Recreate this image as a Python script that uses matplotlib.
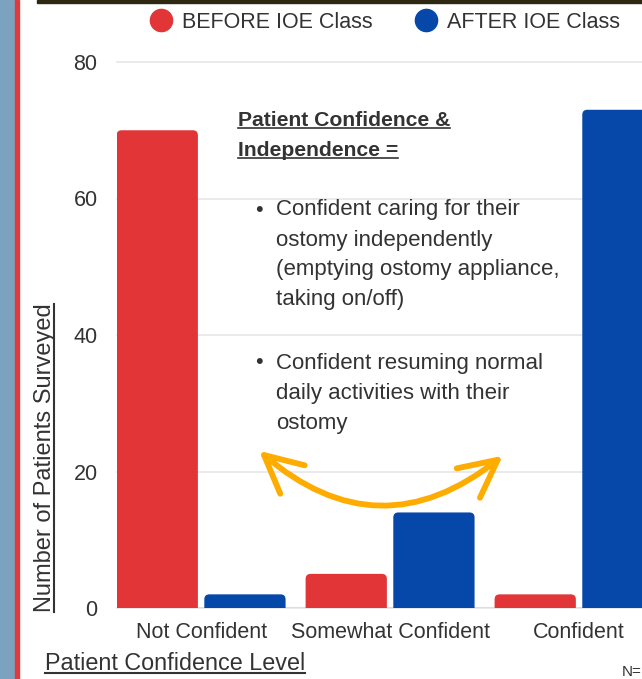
import matplotlib.pyplot as plt
from matplotlib.patches import Rectangle, FancyArrowPatch, FancyBboxPatch
from matplotlib.lines import Line2D
import numpy as np

plt.rcParams['font.family'] = ['Liberation Sans', 'DejaVu Sans']

# data
categories = ["Not Confident", "Somewhat Confident", "Confident"]
before = [70, 5, 2]
after = [2, 14, 73]
yticks = [0, 20, 40, 60, 80]

RED = "#E23537"
BLUE = "#0548AA"
TXT = "#333333"
W, H = 642, 679

fig = plt.figure(figsize=(W / 100, H / 100), dpi=100)


def fx(px):
    return px / W


def fy(py):
    return 1 - py / H


# poster frame bits (left strip, top rule)
fig.patches.append(Rectangle((0, 0), fx(15), 1, transform=fig.transFigure,
                             color="#7BA2BF", zorder=0))
fig.patches.append(Rectangle((fx(15), 0), fx(4), 1, transform=fig.transFigure,
                             color="#E23A3C", zorder=0))
fig.patches.append(Rectangle((fx(37), fy(3)), 1, 3 / H, transform=fig.transFigure,
                             color="#2E2712", zorder=0))

ax = fig.add_axes([fx(117), fy(608), 1 - fx(117), fy(62) - fy(608)])

x = np.arange(len(categories))
bw = 0.43
off = 0.232
b1 = ax.bar(x - off, before, bw, color=RED, zorder=3)
b2 = ax.bar(x + off, after, bw, color=BLUE, zorder=3)

ax.set_xlim(-0.445, 2.333)
ax.set_ylim(0, 80)

# round the top corners of the bars (bottoms hidden below the axis)
rx = 5 / 189.0
asp = (5 / 6.825) / rx
for cont in (b1, b2):
    for p in cont.patches:
        fb = FancyBboxPatch((p.get_x(), -2), p.get_width(), p.get_height() + 2,
                            boxstyle=f"round,pad=0,rounding_size={rx}",
                            mutation_aspect=asp, fc=p.get_facecolor(),
                            ec="none", zorder=3)
        ax.add_patch(fb)
        p.set_visible(False)

ax.set_yticks(yticks)
ax.set_xticks(x)
ax.set_xticklabels(categories)
ax.tick_params(length=0, labelsize=15.5, labelcolor=TXT)
ax.tick_params(axis="y", pad=14)
ax.tick_params(axis="x", pad=10)
for s in ax.spines.values():
    s.set_visible(False)
ax.grid(axis="y", color="#E6E6E6", lw=1.2, zorder=0)
ax.axhline(0, color="#DDDDDD", lw=1.5, zorder=2)
for gl in ax.get_ygridlines():
    gl.set_clip_on(False)

# legend
hs = [Line2D([], [], ls="", marker="o", ms=16, color=RED),
      Line2D([], [], ls="", marker="o", ms=16, color=BLUE)]
fig.legend(hs, ["BEFORE IOE Class", "AFTER IOE Class"], loc="center",
           bbox_to_anchor=(fx(385), fy(22)), ncol=2, frameon=False,
           fontsize=15.5, handletextpad=0.45, columnspacing=2.0, labelcolor=TXT,
           handlelength=1.0)

# axis titles (underlined below)
ylab = fig.text(fx(45), fy(458), "Number of Patients Surveyed", rotation=90,
                ha="center", va="center", fontsize=17, color=TXT)
xlab = fig.text(fx(45), fy(663), "Patient Confidence Level", ha="left",
                va="center", fontsize=16.8, color=TXT)

# annotation box
h1 = fig.text(fx(238), fy(120), "Patient Confidence &", fontsize=15.2,
              weight="bold", color=TXT, va="center")
h2 = fig.text(fx(238), fy(150), "Independence =", fontsize=15.2,
              weight="bold", color=TXT, va="center")
bullet1 = ["Confident caring for their", "ostomy independently",
           "(emptying ostomy appliance,", "taking on/off)"]
bullet2 = ["Confident resuming normal", "daily activities with their", "ostomy"]
for lines, y0 in ((bullet1, 210), (bullet2, 363)):
    fig.text(fx(255), fy(y0), "\u2022", fontsize=15.5, color=TXT, va="center")
    for i, ln in enumerate(lines):
        fig.text(fx(276), fy(y0 + 30 * i), ln, fontsize=16, color=TXT, va="center")

arr = FancyArrowPatch((fx(257), fy(449)), (fx(505), fy(454)),
                      transform=fig.transFigure,
                      connectionstyle="arc3,rad=0.42",
                      arrowstyle="<->,head_length=0.9,head_width=0.45",
                      mutation_scale=30, color="#FFAC00", lw=4.2, zorder=5)
fig.patches.append(arr)

fig.text(fx(622), fy(672), "N=", fontsize=11, color=TXT, va="center")

# underlines
fig.canvas.draw()
r = fig.canvas.get_renderer()
inv = fig.transFigure.inverted()
for t in (xlab, h1, h2):
    bb = t.get_window_extent(r)
    (x0, y0), (x1, _) = inv.transform([(bb.x0, bb.y0 + 2), (bb.x1, bb.y0)])
    fig.lines.append(Line2D([x0, x1], [y0, y0], transform=fig.transFigure,
                            color=TXT, lw=1.5 if t is xlab else 1.2))
bb = ylab.get_window_extent(r)
(x0, y0), (_, y1) = inv.transform([(bb.x1 - 2, bb.y0), (bb.x1, bb.y1)])
fig.lines.append(Line2D([x0, x0], [y0, y1], transform=fig.transFigure,
                        color=TXT, lw=1.5))

fig.savefig("out.png", dpi=100)
